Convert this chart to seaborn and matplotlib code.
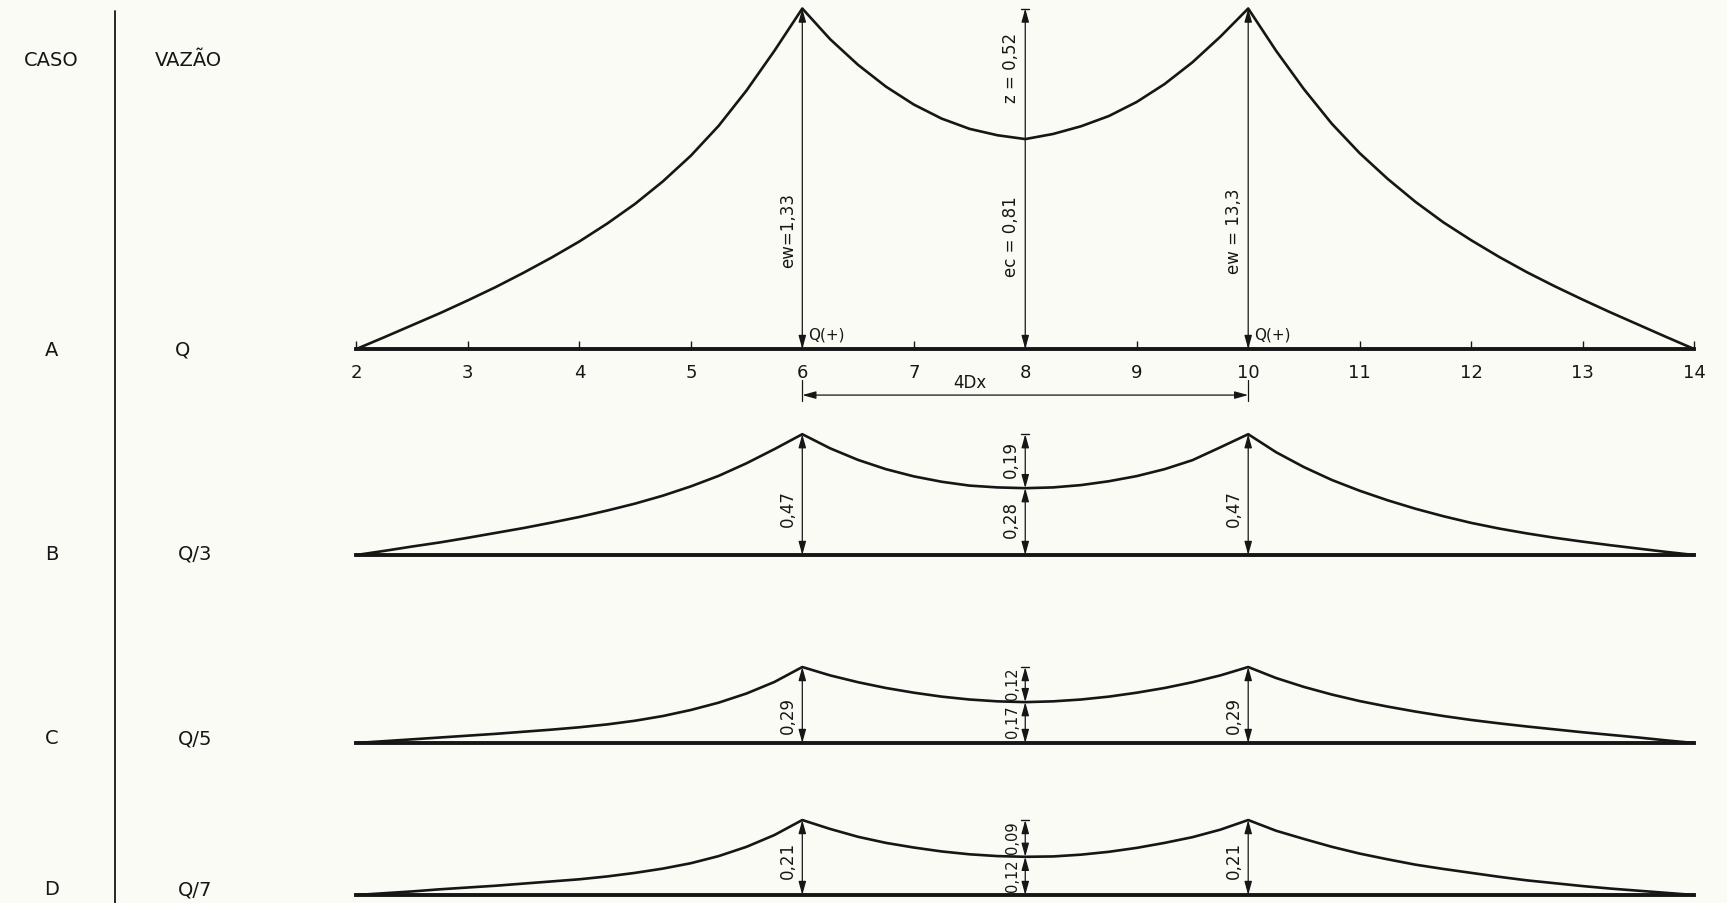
import matplotlib
matplotlib.use("Agg")
import matplotlib.pyplot as plt
import seaborn as sns

# ---------------- data (every quarter station) ----------------
stations = [2, 2.25, 2.5, 2.75, 3, 3.25, 3.5, 3.75, 4, 4.25, 4.5, 4.75, 5, 5.25, 5.5, 5.75, 6,
            6.25, 6.5, 6.75, 7, 7.25, 7.5, 7.75, 8, 8.25, 8.5, 8.75, 9, 9.25, 9.5, 9.75, 10,
            10.25, 10.5, 10.75, 11, 11.25, 11.5, 11.75, 12, 12.25, 12.5, 12.75, 13, 13.25, 13.5, 13.75, 14]

case_a = [0, 0.046, 0.093, 0.14, 0.19, 0.242, 0.298, 0.357, 0.42, 0.49, 0.567, 0.655, 0.755, 0.872, 1.01, 1.165, 1.33,
          1.21, 1.11, 1.025, 0.955, 0.90, 0.86, 0.835, 0.82, 0.84, 0.87, 0.91, 0.965, 1.035, 1.12, 1.22, 1.33,
          1.165, 1.015, 0.88, 0.765, 0.665, 0.575, 0.495, 0.425, 0.36, 0.30, 0.245, 0.193, 0.143, 0.095, 0.047, 0]
case_b = [0, 0.016, 0.033, 0.049, 0.067, 0.086, 0.105, 0.126, 0.148, 0.173, 0.20, 0.231, 0.267, 0.308, 0.357, 0.412, 0.47,
          0.415, 0.37, 0.334, 0.306, 0.285, 0.27, 0.263, 0.26, 0.263, 0.272, 0.287, 0.307, 0.334, 0.369, 0.419, 0.47,
          0.40, 0.342, 0.292, 0.25, 0.213, 0.18, 0.151, 0.125, 0.103, 0.084, 0.067, 0.052, 0.038, 0.025, 0.012, 0]
case_c = [0, 0.007, 0.014, 0.021, 0.028, 0.035, 0.043, 0.051, 0.06, 0.071, 0.085, 0.103, 0.126, 0.154, 0.189, 0.233, 0.29,
          0.258, 0.232, 0.21, 0.192, 0.177, 0.166, 0.159, 0.156, 0.159, 0.166, 0.177, 0.192, 0.21, 0.232, 0.258, 0.29,
          0.248, 0.214, 0.185, 0.16, 0.139, 0.12, 0.103, 0.088, 0.075, 0.063, 0.052, 0.041, 0.031, 0.021, 0.01, 0]
case_d = [0, 0.005, 0.01, 0.016, 0.021, 0.026, 0.032, 0.038, 0.044, 0.052, 0.062, 0.074, 0.089, 0.109, 0.135, 0.168, 0.21,
          0.185, 0.163, 0.146, 0.133, 0.122, 0.114, 0.109, 0.107, 0.108, 0.113, 0.121, 0.132, 0.146, 0.162, 0.183, 0.21,
          0.18, 0.157, 0.135, 0.116, 0.10, 0.085, 0.073, 0.062, 0.051, 0.041, 0.033, 0.025, 0.018, 0.012, 0.006, 0]

case_names = ["A", "B", "C", "D"]
flow_names = ["Q", "Q/3", "Q/5", "Q/7"]
peak_left_labels = ["ew=1,33", "0,47", "0,29", "0,21"]
peak_right_labels = ["ew = 13,3", "0,47", "0,29", "0,21"]
centre_low_labels = ["ec = 0,81", "0,28", "0,17", "0,12"]
centre_high_labels = ["z = 0,52", "0,19", "0,12", "0,09"]
tick_labels = [str(v) for v in range(2, 15)]
series = [case_a, case_b, case_c, case_d]

# ---------------- style / layout ----------------
sns.set_theme(style="white")
plt.rcParams["font.family"] = ["DejaVu Sans"]

INK = "#161616"
PAPER = "#fbfbf6"
W, H = 1727, 904
X8_PX, PX_PER_ST = 1025.25, 111.475
xlim = (8 - X8_PX / PX_PER_ST, 8 + (W - X8_PX) / PX_PER_ST)
# baseline pixel row and pixels per metre of each panel
bands = [(350, 256), (556, 257), (744, 262), (896, 357)]
peak_text_frac = [0.35, 0.39, 0.38, 0.47]
label_rows = [350, 554, 739, 890]

fig = plt.figure(figsize=(W / 100, H / 100), dpi=100, facecolor=PAPER)

ARROW = "<|-|>,head_length=0.9,head_width=0.25"


def dim(ax, x, y0, y1):
    ax.annotate("", xy=(x, y1), xytext=(x, y0),
                arrowprops=dict(arrowstyle=ARROW, color=INK, lw=0.9,
                                shrinkA=0, shrinkB=0, mutation_scale=9))


for i, vals in enumerate(series):
    base_px, s = bands[i]
    ax = fig.add_axes([0, 0, 1, 1])
    ax.patch.set_alpha(0)
    sns.lineplot(x=stations, y=vals, ax=ax, color=INK, linewidth=1.9,
                 estimator=None, sort=False)
    ax.set_xlim(*xlim)
    ax.set_ylim((base_px - H) / s, base_px / s)
    ax.set_xlabel("")
    ax.set_ylabel("")
    for sp in ["top", "right", "left"]:
        ax.spines[sp].set_visible(False)
    ax.spines["bottom"].set_position(("data", 0))
    ax.spines["bottom"].set_bounds(2, 14)
    ax.spines["bottom"].set_linewidth(2.8)
    ax.spines["bottom"].set_color(INK)
    ax.set_yticks([])
    if i == 0:
        ax.set_xticks(range(2, 15))
        ax.set_xticklabels(tick_labels)
        ax.tick_params(axis="x", direction="in", length=6, width=1.0,
                       pad=10, labelsize=13, colors=INK, bottom=True)
    else:
        ax.set_xticks([])

    pk = max(vals)
    ct = vals[stations.index(8)]
    side_fs = 12
    mid_fs = 12 if i < 2 else 10.5

    # peak dimension lines at stations 6 and 10
    for st, lab in [(6, peak_left_labels[i]), (10, peak_right_labels[i])]:
        dim(ax, st, 0, pk)
        ax.text(st - 0.045, pk * peak_text_frac[i], lab, rotation=90,
                ha="right", va="center", fontsize=side_fs, color=INK)

    # centre dimension at station 8
    if i == 0:
        dim(ax, 8, 0, pk)
    else:
        dim(ax, 8, 0, ct)
        dim(ax, 8, ct, pk)
    ax.plot([8 - 0.035, 8 + 0.035], [pk, pk], color=INK, lw=1.0)
    ax.text(8 - 0.045, ct * 0.54, centre_low_labels[i], rotation=90,
            ha="right", va="center", fontsize=mid_fs, color=INK)
    ax.text(8 - 0.045, ct + 0.55 * (pk - ct), centre_high_labels[i], rotation=90,
            ha="right", va="center", fontsize=mid_fs, color=INK)

    if i == 0:
        for st in (6, 10):
            ax.text(st + 0.05, 0.06, "Q(+)", ha="left", va="center",
                    fontsize=11, color=INK)
        # 4Dx dimension
        ydim = -0.18
        for st in (6, 10):
            ax.plot([st, st], [-0.12, -0.205], color=INK, lw=0.9)
        ax.annotate("", xy=(10, ydim), xytext=(6, ydim),
                    arrowprops=dict(arrowstyle=ARROW, color=INK, lw=0.9,
                                    shrinkA=0, shrinkB=0, mutation_scale=9))
        ax.text(7.5, ydim + 0.015, "4Dx", ha="center", va="bottom",
                fontsize=12, color=INK)

# ---------------- left column ----------------
def ftext(xp, yp, s, **kw):
    fig.text(xp / W, 1 - yp / H, s, ha="center", va="center", color=INK, **kw)

ftext(51, 61, "CASO", fontsize=14)
ftext(188, 61, "VAZÃO", fontsize=14)
fig.add_artist(plt.Line2D([115 / W, 115 / W], [1 - 12 / H, 0], color=INK, lw=1.3))
for i in range(4):
    ftext(52, label_rows[i], case_names[i], fontsize=14)
    ftext(183 if i == 0 else 195, label_rows[i], flow_names[i], fontsize=14)

fig.savefig("out.png", dpi=100, facecolor=PAPER)
